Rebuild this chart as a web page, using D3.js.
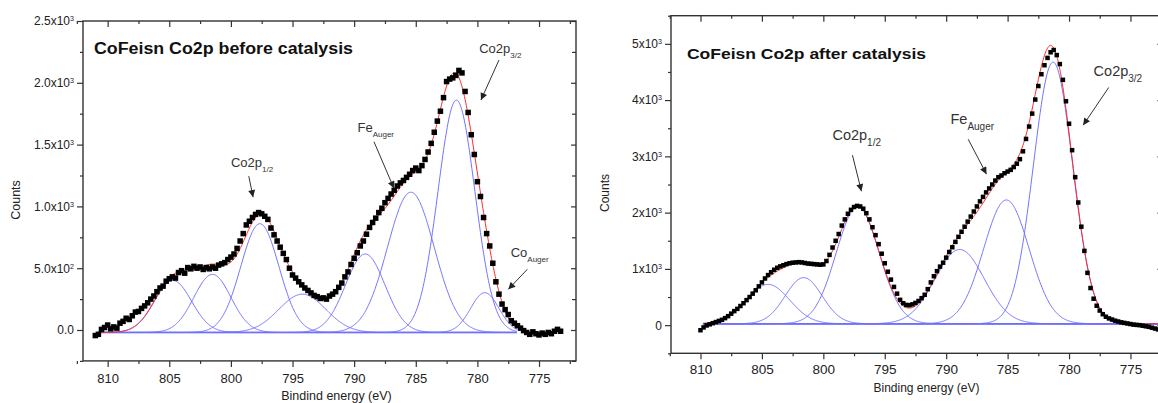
<!DOCTYPE html>
<html><head><meta charset="utf-8">
<script src="https://cdn.jsdelivr.net/npm/d3@7"></script>
<style>
body{margin:0;background:#fff}
svg{display:block}
text{font-family:"Liberation Sans",Arial,Helvetica,sans-serif}
</style>
</head><body>
<svg id="c" width="1158" height="403"></svg>
<script>
// ---------------- DATA ----------------
const energyStep = 0.25;
// "before catalysis" measured counts, starting at 811.0 eV going down in 0.25 eV steps
const beforeStart = 811.0;
const beforeCounts = [
 -45,-35,5,20,40,10,25,15,
 55,70,95,85,115,145,150,175,
 195,220,250,275,310,340,355,395,
 415,430,420,465,480,460,505,495,
 515,500,510,490,505,495,510,500,
 525,535,545,570,590,615,660,720,
 780,850,880,910,935,950,940,920,
 895,825,770,720,670,620,570,500,
 445,420,390,365,340,320,300,280,
 270,255,260,250,275,290,310,345,
 380,430,470,530,580,625,680,720,
 775,830,870,905,950,985,1030,1065,
 1100,1130,1165,1190,1210,1235,1260,1290,
 1310,1290,1330,1380,1440,1510,1600,1690,
 1770,1880,2010,2030,2040,2060,2100,2080,
 1930,1760,1580,1420,1200,1080,910,780,
 680,540,390,290,210,165,125,75,
 55,35,15,-5,-20,-35,-15,-30,
 -40,-25,-35,-20,-30,-10,5,-10
];
// "after catalysis" measured counts, starting at 810.0 eV
const afterStart = 810.0;
const afterCounts = [
 -90,-40,-5,15,35,55,75,95,
 125,160,205,250,290,340,390,445,
 500,560,620,690,760,830,890,940,
 985,1020,1045,1065,1085,1100,1110,1115,
 1120,1115,1105,1095,1090,1085,1080,1075,
 1080,1140,1250,1380,1500,1620,1770,1880,
 1980,2050,2100,2120,2110,2070,1990,1880,
 1740,1600,1440,1270,1100,950,810,680,
 560,450,390,360,355,370,395,430,
 480,540,640,760,870,960,1040,1110,
 1200,1300,1385,1480,1570,1660,1750,1840,
 1930,2020,2110,2200,2280,2360,2430,2500,
 2570,2630,2660,2700,2730,2760,2810,2870,
 2950,3090,3310,3530,3760,4010,4250,4460,
 4620,4750,4850,4890,4800,4640,4360,3980,
 3580,3110,2630,2180,1750,1320,930,660,
 470,345,260,195,150,120,100,80,
 65,50,40,30,20,10,5,0,
 -10,-20,-30,-45,-60,-75
];

// fitted components (centre eV, height above baseline, sigma eV)
const beforePeakCenters = [804.7, 801.5, 797.65, 794.2, 789.1, 785.4, 781.7, 779.4];
const beforePeakHeights = [420, 470, 880, 310, 635, 1135, 1880, 322];
const beforePeakSigmas  = [1.5, 1.5, 1.55, 1.9, 1.6, 1.9, 1.5, 1.15];
const beforeBaseline = -20;
const beforeBaseRange = [810.8, 776.8];

const afterPeakCenters = [804.5, 801.6, 797.2, 788.9, 785.1, 781.3];
const afterPeakHeights = [700, 820, 2080, 1320, 2200, 4650];
const afterPeakSigmas  = [1.75, 1.5, 1.75, 2.0, 1.85, 1.6];
const afterBaseline = 25;
const afterBaseRange = [809.8, 772.6];

// axes
const xTickValues = [810, 805, 800, 795, 790, 785, 780, 775];
const xMinorValues = [812.5, 807.5, 802.5, 797.5, 792.5, 787.5, 782.5, 777.5, 772.5];
const beforeYTicks = [0, 500, 1000, 1500, 2000, 2500];
const beforeYTickMantissa = ["0.0", "5.0x10", "1.0x10", "1.5x10", "2.0x10", "2.5x10"];
const beforeYTickExponent = ["", "2", "3", "3", "3", "3"];
const beforeYMinor = [-250, 250, 750, 1250, 1750, 2250];
const afterYTicks = [0, 1000, 2000, 3000, 4000, 5000];
const afterYTickMantissa = ["0", "1x10", "2x10", "3x10", "4x10", "5x10"];
const afterYTickExponent = ["", "3", "3", "3", "3", "3"];
const afterYMinor = [-500, 500, 1500, 2500, 3500, 4500, 5500];

// annotations (label, subscript, text anchor [eV, counts], arrow from, arrow to)
const beforeNotes = [
  {label:"Co2p", sub:"1/2",   at:[800.0, 1320], from:[798.55, 1245], to:[798.2, 1075]},
  {label:"Fe",   sub:"Auger", at:[789.73, 1604], from:[788.39, 1523], to:[786.77, 1146]},
  {label:"Co2p", sub:"3/2",   at:[779.85, 2244], from:[778.25, 2184], to:[779.71, 1861]},
  {label:"Co",   sub:"Auger", at:[777.3, 593],  from:[775.95, 491],  to:[777.49, 329]}
];
const afterNotes = [
  {label:"Co2p", sub:"1/2",   at:[799.26, 3288], from:[797.63, 3021], to:[796.9, 2381]},
  {label:"Fe",   sub:"Auger", at:[789.65, 3584], from:[788.21, 3305], to:[786.72, 2684]},
  {label:"Co2p", sub:"3/2",   at:[778.0, 4425],  from:[776.77, 4224], to:[778.85, 3554]}
];

// ---------------- DRAW ----------------
const svg = d3.select("#c");
const defs = svg.append("defs");
defs.append("marker").attr("id","ah").attr("viewBox","0 0 10 10")
  .attr("refX",10).attr("refY",5).attr("markerWidth",8).attr("markerHeight",7)
  .attr("markerUnits","userSpaceOnUse").attr("orient","auto")
  .append("path").attr("d","M0,0 L10,5 L0,10 z").attr("fill","#222");

function drawPanel(p){
  const x = d3.scaleLinear().domain(p.xDomain).range(p.xRange);
  const y = d3.scaleLinear().domain(p.yDomain).range(p.yRange);
  const [xl, xr] = p.xRange;
  const [yb, yt] = p.yRange;
  const g = svg.append("g");
  const cid = "clip" + p.id;
  defs.append("clipPath").attr("id", cid).append("rect")
    .attr("x", xl).attr("y", yt).attr("width", xr - xl).attr("height", yb - yt);
  const plot = g.append("g").attr("clip-path", `url(#${cid})`);

  const grid = d3.range(p.baseRange[0], p.baseRange[1] - 1e-9, -0.05);
  const line = d3.line().x(d => x(d[0])).y(d => y(d[1]));
  const comp = (e, i) => p.heights[i] * Math.exp(-((e - p.centers[i]) ** 2) / (2 * p.sigmas[i] ** 2));

  // baseline
  plot.append("path").attr("d", line([[p.baseRange[0], p.baseline],[p.baseRange[1], p.baseline]]))
    .attr("fill","none").attr("stroke","#3a3aff").attr("stroke-width",1.4);
  // components
  p.centers.forEach((c, i) => {
    plot.append("path").attr("d", line(grid.map(e => [e, p.baseline + comp(e, i)])))
      .attr("fill","none").attr("stroke","#7272ff").attr("stroke-width",1);
  });
  // envelope
  plot.append("path").attr("d", line(grid.map(e => [e, p.baseline + d3.sum(p.centers, (c, i) => comp(e, i))])))
    .attr("fill","none").attr("stroke","#ff2a2a").attr("stroke-width",1);
  // data
  const pts = p.counts.map((v, i) => ({e: p.start - i * energyStep, v}));
  plot.selectAll("rect.pt").data(pts).enter().append("rect").attr("class","pt")
    .attr("x", d => x(d.e) - p.ms / 2).attr("y", d => y(d.v) - p.ms / 2)
    .attr("width", p.ms).attr("height", p.ms).attr("fill","#000");

  // frame
  g.append("rect").attr("x", xl).attr("y", yt).attr("width", xr - xl).attr("height", yb - yt)
    .attr("fill","none").attr("stroke","#333").attr("stroke-width",1.4);

  const styleAxis = sel => { sel.select(".domain").remove(); sel.selectAll("line").attr("stroke","#333").attr("stroke-width",1.2); };
  // bottom
  g.append("g").attr("transform",`translate(0,${yb})`)
    .call(d3.axisBottom(x).tickValues(xMinorValues).tickSize(3).tickFormat("")).call(styleAxis);
  const bx = g.append("g").attr("transform",`translate(0,${yb})`)
    .call(d3.axisBottom(x).tickValues(xTickValues).tickSize(6).tickPadding(p.xPad).tickFormat(d3.format("d"))).call(styleAxis);
  bx.selectAll("text").attr("font-size", p.xFont).attr("fill","#222")
    .style("font-family",'"Liberation Sans",Arial,sans-serif');
  // top (inward)
  g.append("g").attr("transform",`translate(0,${yt})`)
    .call(d3.axisBottom(x).tickValues(xMinorValues).tickSize(3).tickFormat("")).call(styleAxis);
  g.append("g").attr("transform",`translate(0,${yt})`)
    .call(d3.axisBottom(x).tickValues(xTickValues).tickSize(6).tickFormat("")).call(styleAxis);
  // left
  g.append("g").attr("transform",`translate(${xl},0)`)
    .call(d3.axisLeft(y).tickValues(p.yMinor).tickSize(3).tickFormat("")).call(styleAxis);
  const ly = g.append("g").attr("transform",`translate(${xl},0)`)
    .call(d3.axisLeft(y).tickValues(p.yTicks).tickSize(6).tickPadding(3).tickFormat("")).call(styleAxis);
  ly.selectAll(".tick text").each(function(d, i){
    const t = d3.select(this).attr("font-size", p.yFont).attr("fill","#222")
      .style("font-family",'"Liberation Sans",Arial,sans-serif');
    t.text(null);
    t.append("tspan").text(p.mant[i]);
    if (p.exp[i]) t.append("tspan").attr("font-size", p.yFont * 0.6).attr("dy", "-0.55em").text(p.exp[i]);
  });
  // right (inward)
  g.append("g").attr("transform",`translate(${xr},0)`)
    .call(d3.axisLeft(y).tickValues(p.yMinor).tickSize(4).tickFormat("")).call(styleAxis);
  g.append("g").attr("transform",`translate(${xr},0)`)
    .call(d3.axisLeft(y).tickValues(p.yTicks).tickSize(5).tickFormat("")).call(styleAxis);

  // axis titles
  g.append("text").attr("x", (xl + Math.min(xr, 1158)) / 2 + p.xtOff).attr("y", p.xtY).attr("text-anchor","middle")
    .attr("font-size", p.atFont).attr("fill","#222").text(p.xTitle);
  g.append("text").attr("transform",`translate(${p.ytX},${p.ytY}) rotate(-90)`).attr("text-anchor","middle")
    .attr("font-size", p.atFont).attr("fill","#222").text("Counts");

  // title
  g.append("text").attr("x", p.titleX).attr("y", p.titleY).attr("font-size", p.titleFont)
    .attr("font-weight","bold").attr("fill","#111")
    .attr("textLength", p.titleLen).attr("lengthAdjust","spacingAndGlyphs").text(p.title);

  // annotations
  p.notes.forEach(n => {
    const t = g.append("text").attr("x", x(n.at[0])).attr("y", y(n.at[1]))
      .attr("font-size", p.nFont).attr("fill","#333");
    t.append("tspan").text(n.label);
    t.append("tspan").attr("font-size", p.nSub).attr("dy", p.nSubDy).text(n.sub);
    g.append("line").attr("x1", x(n.from[0])).attr("y1", y(n.from[1]))
      .attr("x2", x(n.to[0])).attr("y2", y(n.to[1]))
      .attr("stroke","#333").attr("stroke-width",1).attr("marker-end","url(#ah)");
  });
}

drawPanel({
  id:"a", xDomain:[812, 772], xRange:[83, 576], yDomain:[-250, 2500], yRange:[360.9, 21],
  start: beforeStart, counts: beforeCounts, ms: 5.5,
  centers: beforePeakCenters, heights: beforePeakHeights, sigmas: beforePeakSigmas,
  baseline: beforeBaseline, baseRange: beforeBaseRange,
  yTicks: beforeYTicks, yMinor: beforeYMinor, mant: beforeYTickMantissa, exp: beforeYTickExponent,
  xPad: 7, xFont: 13, yFont: 12,
  xTitle: "Bindind energy (eV)", xtY: 400, xtOff: 7, atFont: 12.5, ytX: 20, ytY: 200,
  title: "CoFeisn Co2p before catalysis", titleX: 94, titleY: 53.5, titleFont: 16, titleLen: 259,
  notes: beforeNotes, nFont: 13, nSub: 8, nSubDy: 5
});
drawPanel({
  id:"b", xDomain:[812.4, 772.4], xRange:[671, 1162.4], yDomain:[-500, 5500], yRange:[353.3, 15.7],
  start: afterStart, counts: afterCounts, ms: 4.5,
  centers: afterPeakCenters, heights: afterPeakHeights, sigmas: afterPeakSigmas,
  baseline: afterBaseline, baseRange: afterBaseRange,
  yTicks: afterYTicks, yMinor: afterYMinor, mant: afterYTickMantissa, exp: afterYTickExponent,
  xPad: 5.5, xFont: 13.5, yFont: 12,
  xTitle: "Binding energy (eV)", xtY: 392, xtOff: 12, atFont: 12, ytX: 609, ytY: 193,
  title: "CoFeisn Co2p after catalysis", titleX: 687, titleY: 58.5, titleFont: 15, titleLen: 239,
  notes: afterNotes, nFont: 14.5, nSub: 10, nSubDy: 6
});
</script>
</body></html>
